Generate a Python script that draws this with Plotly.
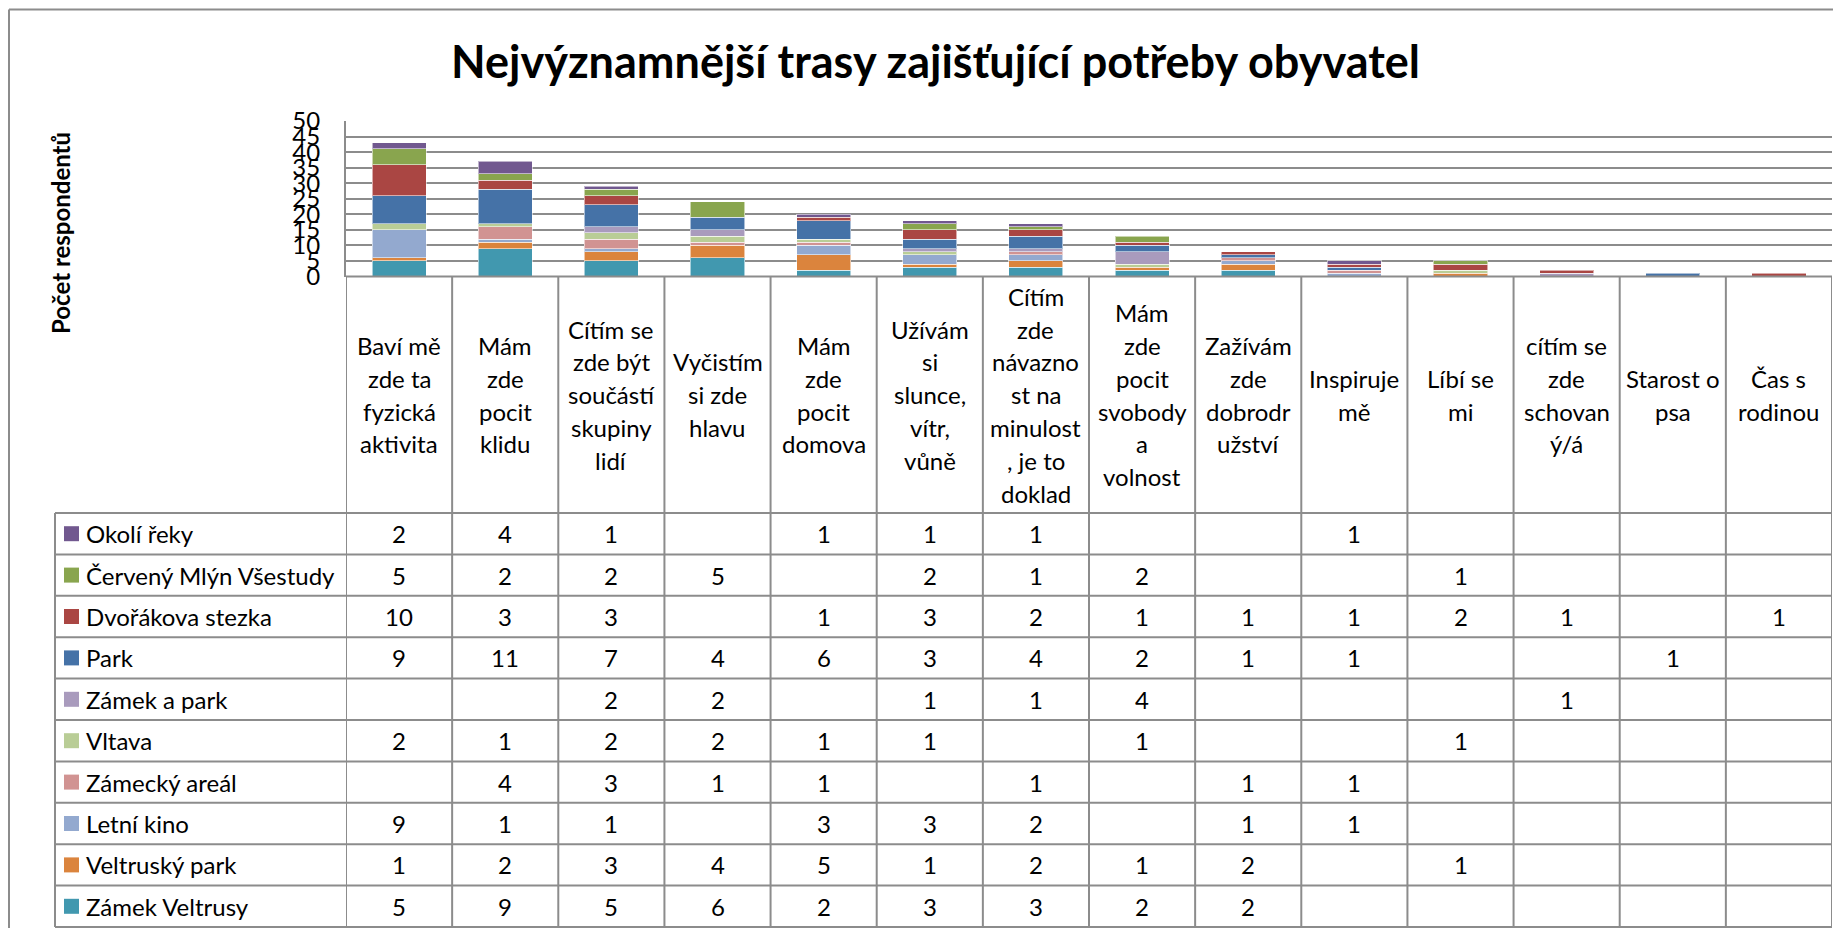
import plotly.graph_objects as go

# ---------------- data ----------------
categories = [
    "Baví mě<br>zde ta<br>fyzická<br>aktivita",
    "Mám<br>zde<br>pocit<br>klidu",
    "Cítím se<br>zde být<br>součástí<br>skupiny<br>lidí",
    "Vyčistím<br>si zde<br>hlavu",
    "Mám<br>zde<br>pocit<br>domova",
    "Užívám<br>si<br>slunce,<br>vítr,<br>vůně",
    "Cítím<br>zde<br>návazno<br>st na<br>minulost<br>, je to<br>doklad",
    "Mám<br>zde<br>pocit<br>svobody<br>a<br>volnost",
    "Zažívám<br>zde<br>dobrodr<br>užství",
    "Inspiruje<br>mě",
    "Líbí se<br>mi",
    "cítím se<br>zde<br>schovan<br>ý/á",
    "Starost o<br>psa",
    "Čas s<br>rodinou",
]

# series listed top-to-bottom as in the data table
series_names = [
    "Okolí řeky", "Červený Mlýn Všestudy", "Dvořákova stezka", "Park",
    "Zámek a park", "Vltava", "Zámecký areál", "Letní kino",
    "Veltruský park", "Zámek Veltrusy",
]
okoli_reky      = [2, 4, 1, None, 1, 1, 1, None, None, 1, None, None, None, None]
cerveny_mlyn    = [5, 2, 2, 5, None, 2, 1, 2, None, None, 1, None, None, None]
dvorakova       = [10, 3, 3, None, 1, 3, 2, 1, 1, 1, 2, 1, None, 1]
park            = [9, 11, 7, 4, 6, 3, 4, 2, 1, 1, None, None, 1, None]
zamek_a_park    = [None, None, 2, 2, None, 1, 1, 4, None, None, None, 1, None, None]
vltava          = [2, 1, 2, 2, 1, 1, None, 1, None, None, 1, None, None, None]
zamecky_areal   = [None, 4, 3, 1, 1, None, 1, None, 1, 1, None, None, None, None]
letni_kino      = [9, 1, 1, None, 3, 3, 2, None, 1, 1, None, None, None, None]
veltrusky_park  = [1, 2, 3, 4, 5, 1, 2, 1, 2, None, 1, None, None, None]
zamek_veltrusy  = [5, 9, 5, 6, 2, 3, 3, 2, 2, None, None, None, None, None]

series_values = [okoli_reky, cerveny_mlyn, dvorakova, park, zamek_a_park,
                 vltava, zamecky_areal, letni_kino, veltrusky_park, zamek_veltrusy]
series_colors = ["#71588F", "#89A54E", "#AA4643", "#4572A7", "#A99BBD",
                 "#B9CD96", "#D19392", "#93A9CF", "#DB843D", "#4198AF"]

y_ticks = [0, 5, 10, 15, 20, 25, 30, 35, 40, 45, 50]
title_text = "Nejvýznamnější trasy zajišťující potřeby obyvatel"
y_title = "Počet respondentů"

# ---------------- layout constants (window pixels) ----------------
OFF = 8                      # default page body margin
W, H = 1841 - 2 * OFF, 936 - 2 * OFF
PLOT_L, PLOT_R = 346, 1832
PLOT_T, PLOT_B = 121, 276.5
TABLE_L = 55
HEAD_B = 513
ROW_H = 41.4
HEAD_LINE = 32.8
FONT = "Lato, 'Open Sans', sans-serif"
GRID = "#8C8C8C"


def fx(p):
    return (p - OFF) / W


def fy(p):
    return 1 - (p - OFF) / H


n_cat = len(categories)
xs = list(range(n_cat))

fig = go.Figure()
# bottom of stack first
for name, vals, col in reversed(list(zip(series_names, series_values, series_colors))):
    fig.add_trace(go.Bar(
        x=xs, y=vals, name=name,
        marker=dict(color=col, line=dict(color="rgba(255,255,255,0.55)", width=1)),
        showlegend=False,
    ))

shapes = []
annotations = []

# outer chart frame (top and left edges are inside the picture)
shapes.append(dict(type="line", xref="paper", yref="paper",
                   x0=fx(9), x1=1, y0=fy(9.5), y1=fy(9.5),
                   line=dict(color="#8C8C8C", width=2)))
shapes.append(dict(type="line", xref="paper", yref="paper",
                   x0=fx(9), x1=fx(9), y0=fy(9.5), y1=0,
                   line=dict(color="#8C8C8C", width=2)))

# table: horizontal lines
shapes.append(dict(type="line", xref="paper", yref="paper",
                   x0=fx(PLOT_L), x1=fx(PLOT_R), y0=fy(PLOT_B), y1=fy(PLOT_B),
                   line=dict(color=GRID, width=2)))
for k in range(len(series_names) + 1):
    yy = HEAD_B + k * ROW_H
    shapes.append(dict(type="line", xref="paper", yref="paper",
                       x0=fx(TABLE_L), x1=fx(PLOT_R), y0=fy(yy), y1=fy(yy),
                       line=dict(color=GRID, width=2)))
table_bottom = HEAD_B + len(series_names) * ROW_H
# table: vertical lines (tied to category axis)
for i in range(n_cat + 1):
    shapes.append(dict(type="line", xref="x", yref="paper",
                       x0=i - 0.5, x1=i - 0.5, y0=fy(PLOT_B), y1=fy(table_bottom),
                       line=dict(color=GRID, width=2)))
shapes.append(dict(type="line", xref="paper", yref="paper",
                   x0=fx(TABLE_L), x1=fx(TABLE_L), y0=fy(HEAD_B), y1=fy(table_bottom),
                   line=dict(color=GRID, width=2)))

# header labels (one annotation per line for Excel-like line spacing)
head_center = (PLOT_B + HEAD_B) / 2
for i, lab in enumerate(categories):
    lines = lab.split("<br>")
    n = len(lines)
    for k, ln in enumerate(lines):
        yy = head_center + (k - (n - 1) / 2) * HEAD_LINE
        annotations.append(dict(xref="x", yref="paper", x=i, y=fy(yy),
                                text=ln, showarrow=False, xanchor="center",
                                yanchor="middle",
                                font=dict(family=FONT, size=24, color="black")))

# rows: legend key + values
for r, (name, vals, col) in enumerate(zip(series_names, series_values, series_colors)):
    yc = HEAD_B + (r + 0.5) * ROW_H
    shapes.append(dict(type="rect", xref="paper", yref="paper",
                       x0=fx(64), x1=fx(79), y0=fy(yc - 7.5), y1=fy(yc + 7.5),
                       fillcolor=col, line=dict(width=0)))
    annotations.append(dict(xref="paper", yref="paper", x=fx(84), y=fy(yc),
                            text=name, showarrow=False, xanchor="left", yanchor="middle",
                            font=dict(family=FONT, size=24, color="black")))
    for i, v in enumerate(vals):
        if v is None:
            continue
        annotations.append(dict(xref="x", yref="paper", x=i, y=fy(yc),
                                text=str(v), showarrow=False, xanchor="center",
                                yanchor="middle",
                                font=dict(family=FONT, size=24, color="black")))

# title
annotations.append(dict(xref="paper", yref="paper", x=fx(935), y=fy(61),
                        text="<b>" + title_text + "</b>", showarrow=False,
                        xanchor="center", yanchor="middle",
                        font=dict(family=FONT, size=45, color="black")))
# y-axis title
annotations.append(dict(xref="paper", yref="paper", x=fx(61), y=fy(233),
                        text="<b>" + y_title + "</b>", showarrow=False, textangle=-90,
                        xanchor="center", yanchor="middle",
                        font=dict(family=FONT, size=24, color="black")))

fig.update_layout(
    template="none",
    width=W, height=H, autosize=False,
    margin=dict(l=0, r=0, t=0, b=0, pad=0, autoexpand=False),
    paper_bgcolor="white", plot_bgcolor="white",
    barmode="stack", bargap=0.49,
    xaxis=dict(domain=[fx(PLOT_L), fx(PLOT_R)], range=[-0.5, n_cat - 0.5],
               automargin=False,
               showticklabels=False, showgrid=False, zeroline=False, showline=False,
               ticks=""),
    yaxis=dict(domain=[fy(PLOT_B), fy(PLOT_T)], range=[0, 50],
               automargin=False,
               tickvals=y_ticks, ticktext=[str(t) for t in y_ticks],
               showgrid=True, gridcolor=GRID, gridwidth=2,
               zeroline=False, showline=True, linecolor=GRID, linewidth=2,
               ticks="outside", ticklen=19, tickcolor="rgba(0,0,0,0)",
               tickfont=dict(family=FONT, size=24, color="black")),
    shapes=shapes,
    annotations=annotations,
)

fig.write_html("out.html", config={"displayModeBar": False})
